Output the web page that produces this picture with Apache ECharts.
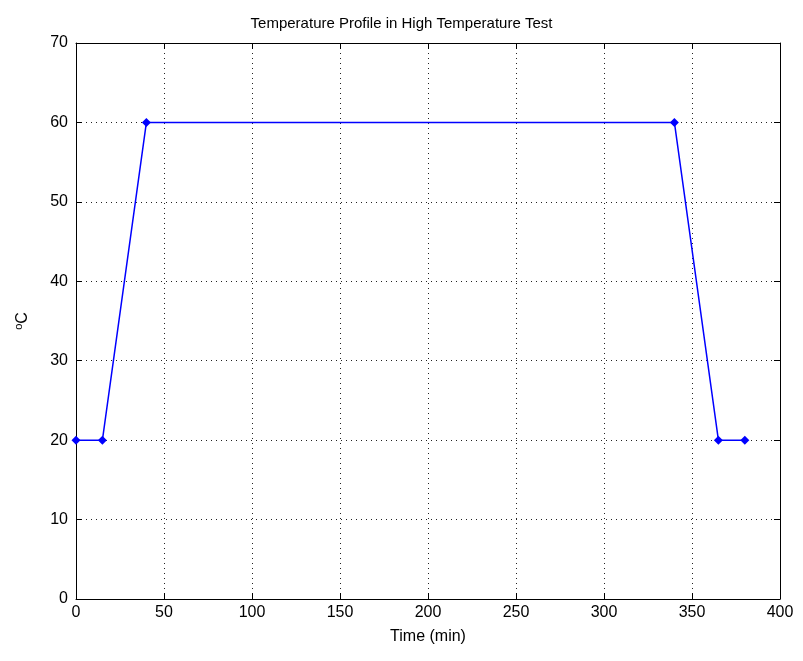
<!DOCTYPE html>
<html><head><meta charset="utf-8">
<script src="https://cdn.jsdelivr.net/npm/echarts@6/dist/echarts.min.js"></script>
<style>html,body{margin:0;padding:0;background:#fff}#c{width:803px;height:661px}</style>
</head><body><div id="c"></div>
<script>
const timeMin = [0, 15, 40, 340, 365, 380];
const tempC = [20, 20, 60, 60, 20, 20];
const xTicks = [0, 50, 100, 150, 200, 250, 300, 350, 400];
const yTicks = [0, 10, 20, 30, 40, 50, 60, 70];

const chart = echarts.init(document.getElementById('c'));
const font = 'Liberation Sans, Arial, sans-serif';
const lbl = {color:'#000', fontFamily:font, fontSize:16};
const common = {
  axisLine:{show:true, onZero:false, lineStyle:{color:'#000', width:1}},
  axisTick:{show:true, inside:true, length:6, lineStyle:{color:'#000'}},
};
chart.setOption({
  animation:false,
  title:{text:'Temperature Profile in High Temperature Test', left:'center', top:11,
    textStyle:{fontFamily:font, fontSize:15, fontWeight:'normal', color:'#000'}},
  grid:{left:76, right:23, top:43, bottom:62},
  xAxis:[{
    type:'value', min:xTicks[0], max:xTicks[xTicks.length-1], interval:50, position:'bottom',
    name:'Time (min)', nameLocation:'middle', nameGap:30,
    nameTextStyle:{color:'#000', fontFamily:font, fontSize:16},
    axisLabel:Object.assign({margin:6}, lbl),
    splitLine:{show:true, lineStyle:{color:'#222', type:[1,4], width:1}},
    ...common
  },{
    type:'value', min:xTicks[0], max:xTicks[xTicks.length-1], interval:50, position:'top',
    axisLabel:{show:false}, splitLine:{show:false}, ...common
  }],
  yAxis:[{
    type:'value', min:yTicks[0], max:yTicks[yTicks.length-1], interval:10, position:'left',
    name:'{s|o}C', nameLocation:'middle', nameGap:44, nameRotate:90,
    nameTextStyle:{color:'#000', fontFamily:font, fontSize:16,
      rich:{s:{fontSize:11, verticalAlign:'top', padding:[0,0,8,0], fontFamily:font, color:'#000'}}},
    axisLabel:Object.assign({margin:8}, lbl),
    splitLine:{show:true, lineStyle:{color:'#222', type:[1,4], width:1}},
    ...common
  },{
    type:'value', min:yTicks[0], max:yTicks[yTicks.length-1], interval:10, position:'right',
    axisLabel:{show:false}, splitLine:{show:false}, ...common
  }],
  series:[{
    type:'line',
    data: timeMin.map((t,i)=>[t, tempC[i]]),
    symbol:'diamond', symbolSize:9, showSymbol:true,
    lineStyle:{color:'#0000ff', width:1.5},
    itemStyle:{color:'#0000ff'}
  }]
});
</script></body></html>
